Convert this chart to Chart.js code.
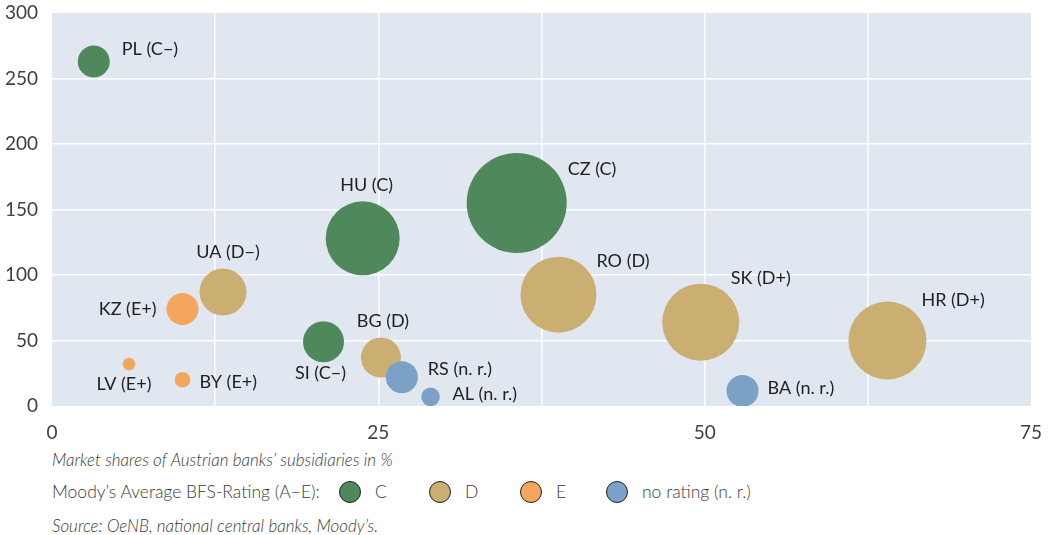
<!DOCTYPE html>
<html>
<head>
<meta charset="utf-8">
<script src="https://cdn.jsdelivr.net/npm/chart.js@4"></script>
<style>
  body { margin: 0; background: #fff; font-family: Lato, "Open Sans", sans-serif; }
  #wrap { position: relative; width: 1049px; height: 535px; }
  canvas { position: absolute; left: 0; top: 0; }
  .note { position: absolute; color: #3a3a3a; font-weight: 300; white-space: nowrap; line-height: 20px; }
  .it { font-style: italic; font-size: 17px; left: 52px; }
  .lg { font-size: 17.5px; top: 482px; }
  .sw { position: absolute; top: 481px; width: 22px; height: 22px; border-radius: 50%; border: 1px solid #222; box-sizing: border-box; }
</style>
</head>
<body>
<div id="wrap">
  <canvas id="bubbleChart" width="1049" height="448"></canvas>
  <div class="note it" style="top:450px">Market shares of Austrian banks’ subsidiaries in %</div>
  <div id="legend"></div>
  <div class="note it" style="top:516px">Source: OeNB, national central banks, Moody’s.</div>
</div>
<script>
// countries and their rating
const countries = ["PL", "CZ", "HU", "UA", "KZ", "LV", "BY", "SI", "BG", "RS", "AL", "RO", "SK", "HR", "BA"];
const ratingText = ["C−", "C", "C", "D−", "E+", "E+", "E+", "C−", "D", "n. r.", "n. r.", "D", "D+", "D+", "n. r."];
const ratingGroup = ["C", "C", "C", "D", "E", "E", "E", "C", "D", "nr", "nr", "D", "D", "D", "nr"];
// market share (x), y value, bubble radius
const marketShare = [3.2, 35.6, 23.8, 13.1, 10.0, 5.9, 10.0, 20.8, 25.2, 26.8, 29.0, 38.8, 49.7, 64.0, 52.9];
const yValues = [263, 155, 128, 87, 74, 32, 20, 49, 37, 22, 7, 85, 64, 50, 11.5];
const bubbleSize = [16, 50, 37, 23.5, 16, 6.3, 7.8, 20.5, 20, 16, 9.3, 38, 38.5, 39, 16];

const groups = ["C", "D", "E", "nr"];
const groupNames = ["C", "D", "E", "no rating (n. r.)"];
const groupColors = ["#4f885a", "#cbaf72", "#f4a75c", "#7ba1c7"];

// label placement next to each bubble: dx, dy, align
const labelPos = [
  [28, -12, "left"], [51, -34, "left"], [4, -53, "center"], [5, -40, "center"],
  [-26, 0, "right"], [-5, 20, "center"], [17, 2, "left"], [-3, 31, "center"],
  [2, -36, "center"], [26, -8, "left"], [22, -3, "left"], [38, -33, "left"],
  [30, -44, "left"], [34, -40, "left"], [25, -3, "left"]
];

const datasets = groups.map((g, gi) => ({
  label: groupNames[gi],
  order: groups.length - gi,
  backgroundColor: groupColors[gi],
  borderWidth: 0,
  data: countries
    .map((c, i) => ({ x: marketShare[i], y: yValues[i], r: bubbleSize[i], g: ratingGroup[i] }))
    .filter((d) => d.g === g),
}));

const plotBg = {
  id: "plotBg",
  beforeDraw(chart) {
    const a = chart.chartArea;
    const ctx = chart.ctx;
    ctx.save();
    ctx.fillStyle = "#e1e7f1";
    ctx.fillRect(a.left, a.top, a.right - a.left, a.bottom - a.top);
    ctx.restore();
  },
};

const bubbleLabels = {
  id: "bubbleLabels",
  afterDatasetsDraw(chart) {
    const ctx = chart.ctx;
    const xs = chart.scales.x;
    const ys = chart.scales.y;
    ctx.save();
    ctx.font = "18px Lato";
    ctx.fillStyle = "#222";
    ctx.textBaseline = "middle";
    countries.forEach((c, i) => {
      const p = labelPos[i];
      ctx.textAlign = p[2];
      ctx.fillText(c + " (" + ratingText[i] + ")",
        xs.getPixelForValue(marketShare[i]) + p[0],
        ys.getPixelForValue(yValues[i]) + p[1]);
    });
    ctx.restore();
  },
};

const gridColor = (ctx) => {
  const v = ctx.tick ? ctx.tick.value : null;
  const s = ctx.scale;
  return v === s.min || v === s.max ? "rgba(0,0,0,0)" : "#ffffff";
};

// drop the extra room Chart.js keeps for the end tick labels
const noPad = (s) => {
  s.paddingTop = 0;
  s.paddingBottom = 0;
  s.paddingLeft = 0;
  s.paddingRight = 0;
};

new Chart(document.getElementById("bubbleChart"), {
  type: "bubble",
  data: { datasets: datasets },
  options: {
    responsive: false,
    animation: false,
    layout: { autoPadding: false, padding: { top: 13, right: 18, left: 0, bottom: 0 } },
    plugins: { legend: { display: false }, tooltip: { enabled: false } },
    scales: {
      x: {
        type: "linear",
        min: 0,
        max: 75,
        border: { display: false },
        grid: { color: gridColor, lineWidth: 1.5, drawTicks: false },
        ticks: {
          stepSize: 12.5,
          padding: 15,
          color: "#404040",
          font: { family: "Lato", size: 19 },
          maxRotation: 0,
          autoSkip: false,
          callback: (v) => (v % 25 === 0 ? v : ""),
        },
        afterFit: (s) => { s.height = 42; noPad(s); },
      },
      y: {
        min: 0,
        max: 300,
        border: { display: false },
        grid: { color: gridColor, lineWidth: 1.5, drawTicks: false },
        ticks: {
          stepSize: 50,
          padding: 14,
          color: "#404040",
          font: { family: "Lato", size: 19 },
        },
        afterFit: (s) => { s.width = 52; noPad(s); },
      },
    },
  },
  plugins: [plotBg, bubbleLabels],
});

// legend below the chart
const swatchX = [350, 440, 531, 617];
const legend = document.getElementById("legend");
legend.innerHTML = '<span class="note lg" style="left:52px">Moody’s Average BFS-Rating (A−E):</span>' +
  groups.map((g, gi) =>
    '<span class="sw" style="left:' + (swatchX[gi] - 11) + 'px;background:' + groupColors[gi] + '"></span>' +
    '<span class="note lg" style="left:' + (swatchX[gi] + 25) + 'px">' + groupNames[gi] + "</span>"
  ).join("");
</script>
</body>
</html>
